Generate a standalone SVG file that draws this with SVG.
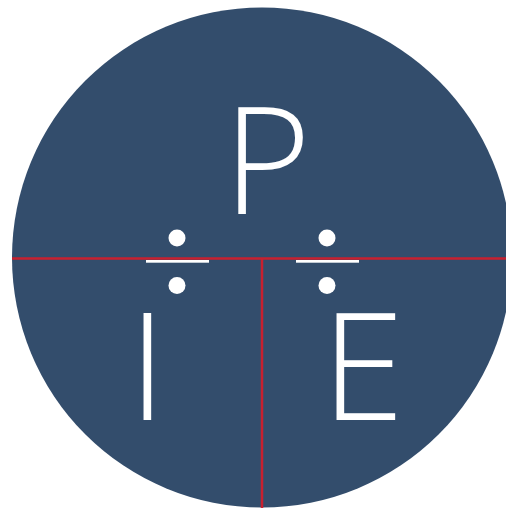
<svg xmlns="http://www.w3.org/2000/svg" width="506" height="508" viewBox="0 0 506 508">
<style>
.l{font-family:"Open Sans","DejaVu Sans",sans-serif;font-weight:300;font-size:150px;fill:#fff;text-anchor:middle}
.r{stroke:#c8202f;stroke-width:2.5;fill:none}
</style>
<rect width="506" height="508" fill="#fff"/>
<g id="circle"><circle cx="262" cy="257.5" r="250" fill="#334d6c"/></g>
<g id="connectors">
<line class="r" x1="12" y1="258.5" x2="506" y2="258.5"/>
<line class="r" x1="262" y1="258.5" x2="262" y2="508"/>
</g>
<g id="P"><text class="l" x="267" y="214">P</text></g>
<g id="I"><text class="l" x="147.5" y="420">I</text></g>
<g id="E"><text class="l" x="363" y="420">E</text></g>
<g id="div1" fill="#fff">
<circle cx="177" cy="238" r="8.5"/>
<rect x="146" y="260" width="63" height="2.7"/>
<circle cx="177" cy="285.5" r="8.5"/>
</g>
<g id="div2" fill="#fff">
<circle cx="327" cy="238" r="8.5"/>
<rect x="296" y="260" width="63" height="2.7"/>
<circle cx="327" cy="285.5" r="8.5"/>
</g>
</svg>
